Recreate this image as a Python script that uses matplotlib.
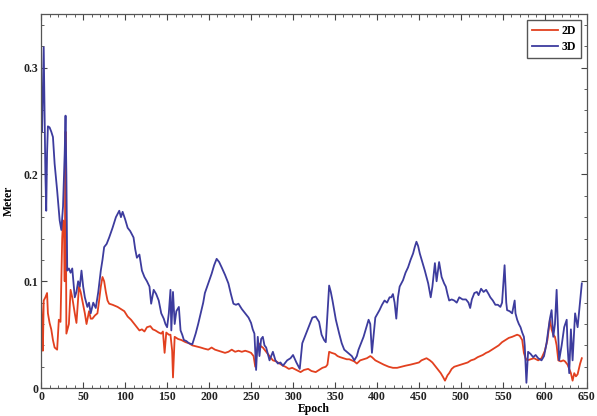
import matplotlib.pyplot as plt
from matplotlib.ticker import MultipleLocator

# 2D error per epoch
epoch_2d = [0, 1, 2, 3, 5, 7, 8, 10, 12, 14, 16, 19, 21, 23, 25, 26, 27, 28, 29, 30,
            31, 33, 35, 37, 40, 42, 45, 47, 49, 52, 54, 57, 59, 61, 64, 67, 69, 71, 73, 75,
            77, 79, 81, 85, 88, 91, 95, 99, 103, 107, 111, 114, 117, 120, 123, 126, 130, 133, 136, 140,
            143, 145, 147, 149, 152, 154, 156, 157, 159, 163, 167, 172, 176, 180, 185, 190, 194, 199, 203, 207,
            211, 215, 219, 223, 227, 231, 235, 239, 243, 247, 250, 253, 255, 257, 259, 262, 264, 268, 272, 276,
            280, 284, 288, 291, 295, 299, 304, 309, 313, 318, 322, 327, 331, 335, 339, 341, 343, 346, 350, 353,
            356, 360, 364, 367, 370, 373, 376, 380, 384, 388, 392, 394, 398, 403, 408, 414, 419, 424, 429, 434,
            440, 445, 450, 453, 456, 459, 463, 466, 470, 473, 476, 479, 481, 484, 486, 489, 492, 496, 500, 504,
            508, 512, 516, 520, 526, 530, 533, 537, 541, 545, 549, 553, 557, 561, 564, 567, 570, 573, 575, 577,
            579, 583, 587, 592, 596, 600, 603, 606, 608, 610, 612, 614, 616, 619, 622, 624, 627, 629, 631, 633,
            635, 637, 639, 642, 644]
err_2d = [0.080, 0.060, 0.035, 0.082, 0.085, 0.089, 0.070, 0.061, 0.055, 0.045, 0.038, 0.036, 0.064, 0.062, 0.140, 0.157, 0.155, 0.100, 0.240, 0.051,
          0.054, 0.060, 0.092, 0.085, 0.070, 0.061, 0.095, 0.090, 0.082, 0.070, 0.060, 0.072, 0.065, 0.065, 0.068, 0.070, 0.082, 0.095, 0.104, 0.100,
          0.090, 0.082, 0.079, 0.078, 0.077, 0.076, 0.074, 0.072, 0.067, 0.064, 0.060, 0.057, 0.054, 0.055, 0.053, 0.057, 0.058, 0.055, 0.054, 0.052,
          0.051, 0.053, 0.033, 0.052, 0.050, 0.050, 0.035, 0.010, 0.048, 0.046, 0.045, 0.043, 0.042, 0.040, 0.039, 0.038, 0.037, 0.036, 0.038, 0.036,
          0.035, 0.034, 0.033, 0.034, 0.036, 0.034, 0.035, 0.034, 0.035, 0.034, 0.033, 0.030, 0.020, 0.036, 0.042, 0.039, 0.038, 0.034, 0.030, 0.026,
          0.025, 0.023, 0.021, 0.020, 0.018, 0.019, 0.017, 0.015, 0.017, 0.018, 0.016, 0.015, 0.017, 0.019, 0.020, 0.022, 0.034, 0.033, 0.032, 0.030,
          0.029, 0.028, 0.027, 0.027, 0.026, 0.025, 0.023, 0.026, 0.027, 0.028, 0.030, 0.029, 0.026, 0.024, 0.022, 0.020, 0.019, 0.019, 0.020, 0.021,
          0.022, 0.023, 0.024, 0.026, 0.027, 0.028, 0.026, 0.024, 0.020, 0.017, 0.014, 0.010, 0.007, 0.012, 0.014, 0.018, 0.020, 0.021, 0.022, 0.023,
          0.024, 0.026, 0.027, 0.029, 0.031, 0.033, 0.034, 0.036, 0.038, 0.040, 0.043, 0.045, 0.047, 0.048, 0.049, 0.050, 0.049, 0.045, 0.033, 0.028,
          0.026, 0.027, 0.028, 0.026, 0.028, 0.035, 0.045, 0.064, 0.055, 0.050, 0.048, 0.040, 0.026, 0.025, 0.026, 0.025, 0.022, 0.018, 0.014, 0.007,
          0.014, 0.011, 0.013, 0.023, 0.028]

# 3D error per epoch
epoch_3d = [0, 1, 2, 3, 4, 5, 6, 7, 8, 10, 12, 14, 16, 19, 22, 24, 26, 28, 29, 30,
            31, 33, 35, 37, 40, 42, 44, 46, 48, 50, 52, 55, 57, 59, 62, 65, 68, 71, 73, 75,
            78, 81, 85, 89, 91, 93, 95, 97, 100, 103, 106, 110, 112, 114, 117, 120, 123, 126, 129, 131,
            134, 137, 140, 143, 146, 148, 150, 152, 154, 155, 157, 159, 161, 164, 166, 168, 170, 173, 176, 180,
            184, 187, 190, 193, 195, 199, 203, 206, 209, 212, 215, 219, 223, 226, 229, 232, 235, 239, 243, 247,
            250, 252, 254, 256, 258, 260, 262, 264, 266, 268, 270, 272, 276, 279, 282, 285, 288, 293, 297, 300,
            304, 308, 311, 314, 317, 320, 323, 327, 331, 334, 337, 339, 343, 345, 347, 351, 355, 358, 361, 364,
            367, 370, 373, 376, 378, 381, 384, 387, 390, 392, 394, 396, 398, 403, 406, 409, 412, 415, 417, 419,
            421, 423, 425, 427, 431, 434, 437, 440, 443, 445, 447, 449, 451, 454, 457, 459, 461, 464, 466, 469,
            471, 474, 477, 480, 482, 484, 486, 489, 492, 495, 498, 502, 506, 509, 511, 513, 516, 519, 521, 524,
            527, 530, 533, 535, 538, 541, 544, 547, 549, 552, 554, 555, 558, 561, 564, 565, 567, 569, 571, 573,
            575, 576, 578, 580, 583, 586, 589, 592, 596, 599, 602, 604, 606, 608, 610, 612, 614, 617, 620, 623,
            626, 627, 629, 631, 633, 636, 639, 642, 644]
err_3d = [0.250, 0.240, 0.280, 0.319, 0.260, 0.200, 0.166, 0.220, 0.245, 0.244, 0.240, 0.235, 0.210, 0.185, 0.157, 0.148, 0.170, 0.220, 0.255, 0.200,
          0.110, 0.112, 0.108, 0.112, 0.085, 0.090, 0.100, 0.095, 0.110, 0.095, 0.085, 0.076, 0.080, 0.070, 0.080, 0.075, 0.090, 0.110, 0.120, 0.132,
          0.135, 0.141, 0.150, 0.160, 0.163, 0.166, 0.160, 0.165, 0.158, 0.150, 0.147, 0.141, 0.130, 0.122, 0.125, 0.110, 0.104, 0.100, 0.095, 0.079,
          0.092, 0.088, 0.082, 0.070, 0.065, 0.060, 0.057, 0.070, 0.092, 0.054, 0.090, 0.060, 0.072, 0.076, 0.054, 0.050, 0.045, 0.044, 0.042, 0.041,
          0.051, 0.060, 0.070, 0.080, 0.089, 0.098, 0.107, 0.115, 0.121, 0.118, 0.113, 0.106, 0.098, 0.088, 0.079, 0.078, 0.079, 0.074, 0.070, 0.066,
          0.061, 0.055, 0.051, 0.017, 0.048, 0.030, 0.046, 0.048, 0.040, 0.038, 0.032, 0.026, 0.034, 0.026, 0.023, 0.024, 0.021, 0.026, 0.028, 0.031,
          0.024, 0.018, 0.042, 0.048, 0.054, 0.060, 0.066, 0.067, 0.062, 0.050, 0.045, 0.043, 0.096, 0.090, 0.082, 0.064, 0.051, 0.042, 0.036, 0.034,
          0.032, 0.030, 0.026, 0.030, 0.036, 0.042, 0.048, 0.056, 0.064, 0.060, 0.033, 0.050, 0.066, 0.073, 0.078, 0.082, 0.080, 0.085, 0.085, 0.088,
          0.080, 0.065, 0.085, 0.095, 0.101, 0.108, 0.113, 0.120, 0.126, 0.132, 0.137, 0.133, 0.126, 0.118, 0.110, 0.104, 0.098, 0.085, 0.095, 0.117,
          0.100, 0.118, 0.104, 0.098, 0.095, 0.088, 0.082, 0.083, 0.082, 0.080, 0.085, 0.083, 0.083, 0.080, 0.075, 0.083, 0.089, 0.090, 0.087, 0.093,
          0.090, 0.092, 0.088, 0.085, 0.082, 0.078, 0.078, 0.076, 0.080, 0.115, 0.080, 0.073, 0.072, 0.070, 0.082, 0.070, 0.064, 0.060, 0.057, 0.052,
          0.048, 0.040, 0.005, 0.034, 0.032, 0.029, 0.031, 0.028, 0.026, 0.030, 0.042, 0.054, 0.065, 0.073, 0.048, 0.060, 0.092, 0.026, 0.040, 0.057,
          0.064, 0.040, 0.014, 0.055, 0.026, 0.070, 0.057, 0.082, 0.098]

plt.rcParams['font.family'] = ['Liberation Serif', 'DejaVu Serif']
plt.rcParams['font.weight'] = 'bold'

fig = plt.figure(figsize=(5.97, 4.16), dpi=100)
ax = fig.add_axes([0.069, 0.067, 0.914, 0.899])

ax.plot(epoch_2d, err_2d, color='#e2401f', lw=1.3, label='2D')
ax.plot(epoch_3d, err_3d, color='#3d3c9e', lw=1.3, label='3D')

ax.set_xlim(0, 650)
ax.set_ylim(0, 0.35)
ax.xaxis.set_major_locator(MultipleLocator(50))
ax.xaxis.set_minor_locator(MultipleLocator(10))
ax.yaxis.set_major_locator(MultipleLocator(0.1))
ax.yaxis.set_minor_locator(MultipleLocator(0.02))
ax.set_yticks([0, 0.1, 0.2, 0.3])
ax.set_yticklabels(['0', '0.1', '0.2', '0.3'])

ax.tick_params(which='both', direction='in', top=True, right=True, colors='#444444',
               labelcolor='#222222', labelsize=8.5, pad=2)
ax.tick_params(which='major', length=4, width=0.8)
ax.tick_params(which='minor', length=2, width=0.6)
for s in ax.spines.values():
    s.set_color('#555555')
    s.set_linewidth(0.9)

ax.set_xlabel('Epoch', fontsize=8.5, fontweight='bold', labelpad=0)
ax.set_ylabel('Meter', fontsize=8.5, fontweight='bold', labelpad=6)

leg = ax.legend(loc='upper right', fontsize=8.5, fancybox=False, handlelength=2.2,
                borderaxespad=0.5, framealpha=1, edgecolor='#555555',
                labelspacing=0.4, handletextpad=0.3, borderpad=0.4)
leg.get_frame().set_linewidth(1.0)

plt.savefig('out.png', dpi=100)
